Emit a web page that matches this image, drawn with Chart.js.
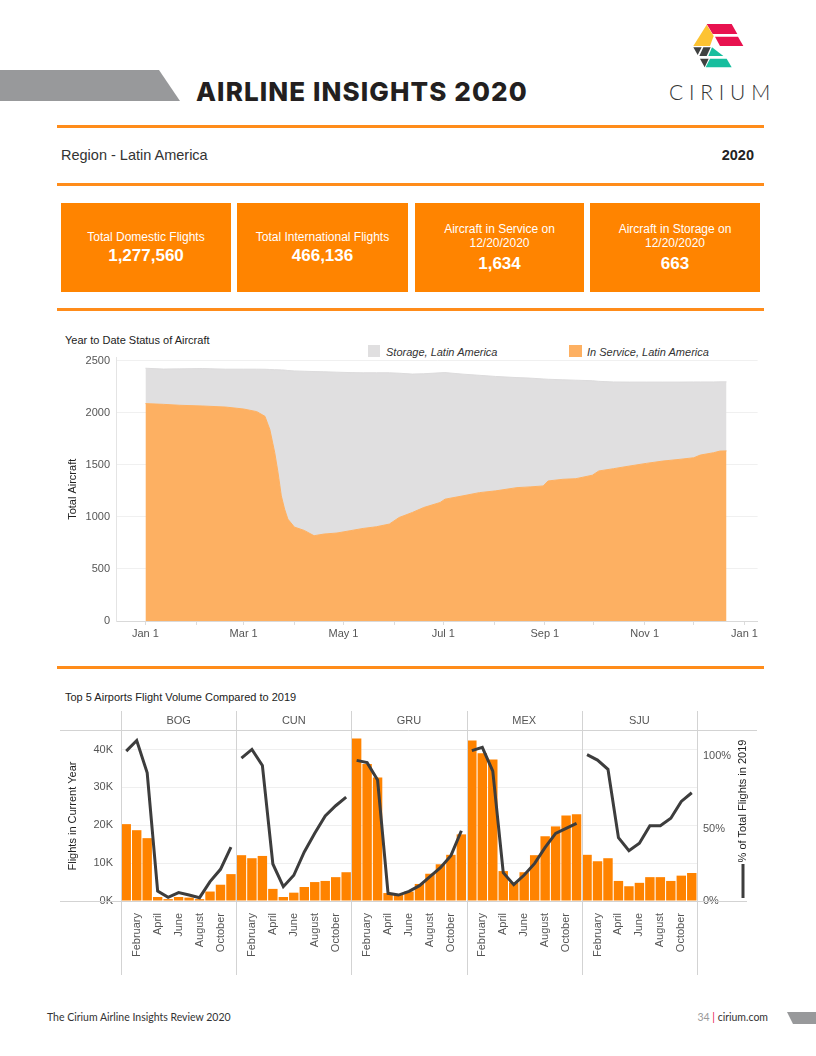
<!DOCTYPE html>
<html>
<head>
<meta charset="utf-8">
<title>Airline Insights 2020 - Latin America</title>
<script src="https://cdn.jsdelivr.net/npm/chart.js@4.4.1/dist/chart.umd.min.js"></script>
<style>
  body { margin: 0; background: #fff; }
  #page { position: relative; width: 816px; height: 1056px; overflow: hidden; background: #fff;
          font-family: "Liberation Sans", Arial, sans-serif; color: #333; }
  .abs { position: absolute; }
  .rule { position: absolute; left: 57px; width: 707px; height: 3px; background: #ff8c1a; }
  .banner { position: absolute; left: 0; top: 70px; width: 180px; height: 31px; background: #98999b;
            clip-path: polygon(0 0, 159px 0, 180px 100%, 0 100%); }
  .title { position: absolute; left: 196px; top: 79px; font-family: Inter, sans-serif; font-weight: 800;
           font-size: 26px; line-height: 25px; color: #231f20; letter-spacing: 1.1px; white-space: nowrap; }
  .brand { position: absolute; left: 669px; top: 80px; font-family: Lato, sans-serif; font-weight: 300;
           font-size: 21px; line-height: 24px; letter-spacing: 5.8px; color: #333; }
  .kpi { position: absolute; top: 203px; height: 89px; background: #ff8400; color: #fff;
         display: flex; flex-direction: column; justify-content: center; align-items: center; text-align: center; }
  .kpi .lbl { font-size: 12px; line-height: 14px; }
  .kpi .val { font-size: 17px; font-weight: bold; line-height: 20px; margin-top: 2px; }
  .kpi.two .val { margin-top: 4px; }
  .small { font-size: 11px; line-height: 13px; color: #222; white-space: nowrap; }
  .legsq { position: absolute; top: 345px; width: 12px; height: 12px; }
  .legtx { position: absolute; top: 346px; font-size: 11px; line-height: 13px; font-style: italic; color: #333; }
  .foot { position: absolute; top: 1011px; font-family: Lato, sans-serif; font-size: 10.5px; line-height: 13px; color: #333; }
</style>
</head>
<body>
<div id="page">
  <div class="banner"></div>
  <div class="title">AIRLINE INSIGHTS 2020</div>

  <svg class="abs" style="left:660px;top:10px" width="130" height="100" viewBox="0 0 390 300">
    <polygon points="140,42 215,42 232,72 158,72" fill="#e8124f"/>
    <polygon points="165,80 234,80 250,108 180,108" fill="#e8124f"/>
    <polygon points="140,44 161,78 150,108 100,108" fill="#fdc332"/>
    <polygon points="100,112 125,112 113,135" fill="#3f4140"/>
    <polygon points="130,112 152,112 140,138 118,138" fill="#3f4140"/>
    <polygon points="156,112 190,138 145,138" fill="#17be9e"/>
    <polygon points="120,146 146,146 134,172" fill="#3f4140"/>
    <polygon points="150,146 200,146 215,172 137,172" fill="#17be9e"/>
  </svg>
  <div class="brand">CIRIUM</div>

  <div class="rule" style="top:125px"></div>
  <div class="abs" style="left:61px;top:147px;font-size:14.5px;line-height:17px;color:#333">Region - Latin America</div>
  <div class="abs" style="right:62px;top:147px;font-size:14.5px;line-height:17px;font-weight:bold;color:#222">2020</div>
  <div class="rule" style="top:183px"></div>

  <div class="kpi" style="left:61px;width:170px"><div class="lbl">Total Domestic Flights</div><div class="val">1,277,560</div></div>
  <div class="kpi" style="left:237px;width:171px"><div class="lbl">Total International Flights</div><div class="val">466,136</div></div>
  <div class="kpi two" style="left:415px;width:169px"><div class="lbl">Aircraft in Service on<br>12/20/2020</div><div class="val">1,634</div></div>
  <div class="kpi two" style="left:590px;width:170px"><div class="lbl">Aircraft in Storage on<br>12/20/2020</div><div class="val">663</div></div>

  <div class="rule" style="top:308px"></div>

  <div class="abs small" style="left:65px;top:334px">Year to Date Status of Aircraft</div>
  <div class="legsq" style="left:368px;background:#e0dfe0"></div>
  <div class="legtx" style="left:386px">Storage, Latin America</div>
  <div class="legsq" style="left:569px;width:13px;background:#fdb062"></div>
  <div class="legtx" style="left:587px">In Service, Latin America</div>
  <div class="abs" style="left:60px;top:345px;width:700px;height:305px"><canvas id="areaChart"></canvas></div>

  <div class="rule" style="top:666px"></div>

  <div class="abs small" style="left:65px;top:691px">Top 5 Airports Flight Volume Compared to 2019</div>
  <div class="abs" style="left:60px;top:705px;width:700px;height:275px"><canvas id="airportChart"></canvas></div>

  <div class="foot" style="left:47px">The Cirium Airline Insights Review 2020</div>
  <div class="foot" style="right:48px"><span style="color:#9a9a9a">34</span><span style="color:#e8124f"> | </span>cirium.com</div>
  <div class="abs" style="left:787px;top:1012px;width:29px;height:12px;background:#98999b;clip-path:polygon(0 0,100% 0,100% 100%,6px 100%)"></div>
</div>

<script>
// ---- Year to date status of aircraft (day of year 2020, 0 = Jan 1) ----
const areaDays = [0, 11, 21, 35, 49, 60, 68, 73, 76, 79, 81, 83, 85, 87, 91, 97, 103, 109, 117, 125,
                  133, 141, 149, 155, 163, 170, 180, 183, 194, 204, 214, 227, 235, 243, 246, 255, 263,
                  273, 277, 286, 296, 306, 316, 326, 335, 339, 347, 351, 355];
const inService = [2088, 2081, 2072, 2065, 2055, 2036, 2011, 1966, 1839, 1616, 1425, 1202, 1075, 979, 902, 870, 819, 835, 845, 867,
                   889, 905, 931, 994, 1042, 1090, 1138, 1170, 1202, 1233, 1250, 1281, 1288, 1297, 1345, 1361, 1367,
                   1400, 1441, 1463, 1489, 1514, 1536, 1552, 1568, 1594, 1616, 1632, 1634];
const inStorage = [340, 339, 350, 360, 364, 383, 408, 452, 577, 798, 988, 1210, 1335, 1427, 1500, 1529, 1577, 1559, 1545, 1519,
                   1495, 1479, 1453, 1386, 1330, 1285, 1246, 1216, 1169, 1127, 1099, 1057, 1045, 1028, 977, 956, 946,
                   908, 861, 833, 806, 781, 759, 743, 728, 702, 680, 665, 663];
const areaTickDays = [0, 31, 60, 91, 121, 152, 182, 213, 244, 274, 305, 335, 366];
const areaTickLabels = ['Jan 1', '', 'Mar 1', '', 'May 1', '', 'Jul 1', '', 'Sep 1', '', 'Nov 1', '', 'Jan 1'];
const aircraftTicks = [0, 500, 1000, 1500, 2000, 2500];

// ---- Top 5 airports, Jan - Nov 2020 ----
const airports = ['BOG', 'CUN', 'GRU', 'MEX', 'SJU'];
const months = ['January', 'February', 'March', 'April', 'May', 'June', 'July', 'August', 'September', 'October', 'November'];
const bogFlights = [20300, 18700, 16600, 1050, 500, 1050, 900, 500, 2500, 4300, 7100];
const cunFlights = [12100, 11300, 11900, 3200, 1050, 2200, 3700, 5000, 5300, 6300, 7600];
const gruFlights = [42900, 36200, 32600, 2100, 1700, 2500, 4500, 7200, 9700, 12200, 17600];
const mexFlights = [42400, 39000, 37400, 7900, 4900, 7600, 12100, 17100, 19700, 22600, 22900];
const sjuFlights = [12200, 10500, 11300, 5300, 3900, 4800, 6300, 6300, 5300, 6700, 7400];
const bogPct = [103.7, 111, 88.7, 6.9, 2.5, 5.8, 4.1, 2.3, 13.4, 21.9, 37.3];
const cunPct = [98.9, 104.9, 93.8, 25.6, 9.9, 17.8, 33.9, 46.8, 58.8, 65.9, 71.9];
const gruPct = [97.3, 95.7, 83.7, 5.3, 4.1, 6.7, 10.6, 16.8, 23, 31.4, 48.6];
const mexPct = [104, 106.3, 89.9, 19.6, 11.3, 18, 26, 37.1, 46.8, 50.3, 53.7];
const sjuPct = [101.2, 97.5, 91.1, 43.8, 34.8, 39.9, 52.1, 52.1, 57.2, 68.9, 74.9];
const flightTicks = [0, 10000, 20000, 30000, 40000];
const pctTicks = [0, 50, 100];

Chart.defaults.font.family = '"Liberation Sans", Arial, sans-serif';
Chart.defaults.font.size = 11;
Chart.defaults.color = '#666';

new Chart(document.getElementById('areaChart'), {
    type: 'line',
    data: {
        datasets: [
            {
                label: 'In Service, Latin America',
                data: areaDays.map((d, i) => ({ x: d, y: inService[i] })),
                fill: 'origin',
                backgroundColor: '#fdb062',
                borderColor: '#fdb062',
                borderWidth: 1,
                pointRadius: 0
            },
            {
                label: 'Storage, Latin America',
                data: areaDays.map((d, i) => ({ x: d, y: inStorage[i] })),
                fill: '-1',
                backgroundColor: '#e0dfe0',
                borderColor: '#dcdbdc',
                borderWidth: 1,
                pointRadius: 0
            }
        ]
    },
    options: {
        animation: false,
        responsive: true,
        maintainAspectRatio: false,
        layout: { padding: { top: 11, right: 2 } },
        plugins: { legend: { display: false }, tooltip: { enabled: false } },
        scales: {
            x: {
                type: 'linear',
                min: -18,
                max: 374,
                afterBuildTicks: axis => { axis.ticks = areaTickDays.map(v => ({ value: v })); },
                afterFit: axis => { axis.height = 29; },
                ticks: { autoSkip: false, maxRotation: 0, padding: 2, color: '#555',
                         callback: (v, i) => areaTickLabels[i] },
                grid: { drawOnChartArea: false, drawTicks: true, tickLength: 4, color: '#dcdcdc' },
                border: { color: '#d9d9d9' }
            },
            y: {
                stacked: true,
                min: 0,
                max: 2530,
                afterBuildTicks: axis => { axis.ticks = aircraftTicks.map(v => ({ value: v })); },
                afterFit: axis => { axis.width = 56; },
                ticks: { padding: 6, color: '#555', callback: v => String(v) },
                grid: { color: '#f0f0f0', drawTicks: false },
                border: { color: '#e4e4e4' },
                title: { display: true, text: 'Total Aircraft', color: '#222', padding: { top: 6.5, bottom: 0 } }
            }
        }
    }
});

// panel separators, headers, outer rules and the right axis title
const panelPlugin = {
    id: 'panels',
    afterDraw(chart) {
        const { ctx, chartArea, scales: { x } } = chart;
        const cw = x.getPixelForValue(1) - x.getPixelForValue(0);
        ctx.save();
        ctx.strokeStyle = '#d3d3d3';
        ctx.lineWidth = 1;
        ctx.beginPath();
        ctx.moveTo(0, chartArea.top - 0.5);
        ctx.lineTo(697, chartArea.top - 0.5);
        ctx.moveTo(0, chartArea.bottom + 0.5);
        ctx.lineTo(687, chartArea.bottom + 0.5);
        for (let k = 0; k <= airports.length; k++) {
            const px = Math.round(x.getPixelForValue(k * months.length) - cw / 2) + 0.5;
            ctx.moveTo(px, 6);
            ctx.lineTo(px, 270);
        }
        ctx.stroke();

        ctx.fillStyle = '#555';
        ctx.font = '11px "Liberation Sans", Arial, sans-serif';
        ctx.textAlign = 'center';
        ctx.textBaseline = 'middle';
        airports.forEach((a, k) => {
            const l = x.getPixelForValue(k * months.length) - cw / 2;
            const r = x.getPixelForValue((k + 1) * months.length) - cw / 2;
            ctx.fillText(a, (l + r) / 2, 16);
        });

        ctx.translate(683, 96);
        ctx.rotate(-Math.PI / 2);
        ctx.fillStyle = '#222';
        ctx.fillText('% of Total Flights in 2019', 0, 0);
        ctx.restore();

        ctx.save();
        ctx.strokeStyle = '#3d3d3d';
        ctx.lineWidth = 3;
        ctx.beginPath();
        ctx.moveTo(683, 159);
        ctx.lineTo(683, 193);
        ctx.stroke();
        ctx.restore();
    }
};

const airportLabels = airports.flatMap(() => months);
const allFlights = [bogFlights, cunFlights, gruFlights, mexFlights, sjuFlights];
const allPct = [bogPct, cunPct, gruPct, mexPct, sjuPct];

const lineSets = allPct.map((pct, k) => ({
    type: 'line',
    label: airports[k] + ' % of 2019',
    data: airportLabels.map((m, i) => Math.floor(i / months.length) === k ? pct[i % months.length] : null),
    yAxisID: 'y1',
    borderColor: '#3d3d3d',
    borderWidth: 3,
    pointRadius: 0,
    tension: 0,
    spanGaps: false,
    order: 1
}));

new Chart(document.getElementById('airportChart'), {
    type: 'bar',
    data: {
        labels: airportLabels,
        datasets: [
            {
                label: 'Flights in Current Year',
                data: allFlights.flat(),
                backgroundColor: '#ff8300',
                barPercentage: 0.9,
                categoryPercentage: 1.0,
                yAxisID: 'y',
                order: 2
            },
            ...lineSets
        ]
    },
    options: {
        animation: false,
        responsive: true,
        maintainAspectRatio: false,
        layout: { padding: { top: 26 } },
        plugins: { legend: { display: false }, tooltip: { enabled: false } },
        scales: {
            x: {
                offset: true,
                afterFit: axis => { axis.height = 79; },
                ticks: {
                    autoSkip: false, minRotation: 90, maxRotation: 90, padding: 4, color: '#555',
                    callback: (v, i) => (i % months.length) % 2 === 1 ? months[i % months.length] : ''
                },
                grid: { display: false },
                border: { display: false }
            },
            y: {
                position: 'left',
                min: 0,
                max: 44900,
                afterBuildTicks: axis => { axis.ticks = flightTicks.map(v => ({ value: v })); },
                afterFit: axis => { axis.width = 61; },
                ticks: { padding: 8, color: '#555', callback: v => (v / 1000) + 'K' },
                grid: { color: '#efefef', drawTicks: false },
                border: { display: false },
                title: { display: true, text: 'Flights in Current Year', color: '#222', padding: { top: 6.5, bottom: 0 } }
            },
            y1: {
                position: 'right',
                min: 0,
                max: 117.6,
                afterBuildTicks: axis => { axis.ticks = pctTicks.map(v => ({ value: v })); },
                afterFit: axis => { axis.width = 63; },
                ticks: { padding: 6, color: '#555', callback: v => v + '%' },
                grid: { drawOnChartArea: false, drawTicks: false },
                border: { display: false }
            }
        }
    },
    plugins: [panelPlugin]
});
</script>
</body>
</html>
